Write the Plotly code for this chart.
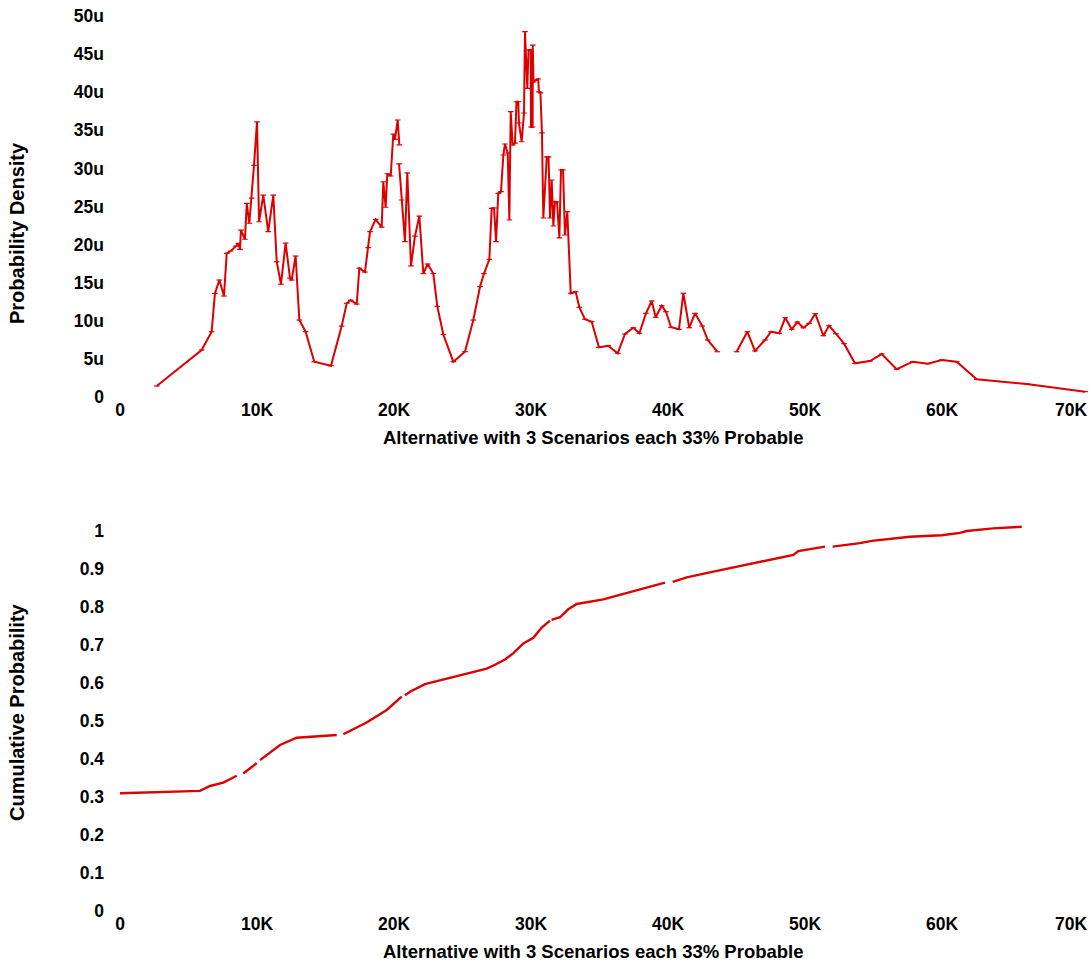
import plotly.graph_objects as go

# ---------------- data ----------------
# Probability density (x in thousands, density in micro-units); None = break in line
density_x_k = [2.68, 5.96, 6.69, 6.93, 7.25, 7.59, 7.79, 8.08, 8.47, 8.64, 8.76, 8.83, 9.12, 9.25, 9.44, 9.61, 9.78, 10.0,
               10.15, 10.46, 10.82, 11.19, 11.44, 11.75, 12.09, 12.41, 12.53, 12.82, 13.09, 13.55, 14.18, 15.4, 16.18,
               16.55, 16.84, 17.28, 17.47, 17.88, 18.12, 18.25, 18.66, 19.1, 19.22, 19.39, 19.51, 19.76, 19.95, 20.07,
               20.27, 20.39, None,
               20.37, 20.56, 20.8, 20.97, 21.24, 21.53, 21.85, 22.14, 22.46, 22.87, 23.16, 23.6, 24.33, 25.18, 25.79,
               26.28, 26.57, 26.96, 27.13, 27.30, 27.45, 27.61, 27.81, 27.98, 28.10, 28.30, 28.42, 28.52, 28.66, 28.83,
               28.94, 29.07, 29.12, 29.32, 29.49, 29.56, 29.73, 29.82, 29.98, 30.0, 30.12, 30.13, 30.18, 30.36, 30.53,
               30.58, 30.69, 30.80, 30.90, 31.15, 31.28, 31.39, 31.51, 31.63, 31.75, 31.90, 32.07, 32.19, 32.34, 32.48,
               32.65, 32.90, 33.26, 33.53, 33.94, 34.43, 34.96, 35.64, 36.33, 36.86, 37.47, 37.91, 38.39, 38.81, 39.10,
               39.54, 39.85, 40.22, 40.80, 41.12, 41.55, 41.97, 42.50, 42.90, 43.60, None,
               45.01, 45.79, 46.35, 47.08, 47.52, 48.12, 48.56, 49.03, 49.44, 49.88, 50.31, 50.75, 51.34, 51.75, 52.26,
               52.85, 53.65, 54.74, 55.6, 56.69, 57.86, 58.96, 59.98, 61.07, 62.53, 66.18, 70.44]
density_u = [1.44, 6.17, 8.57, 13.6, 15.35, 13.25, 18.86, 19.16, 19.8, 20.17, 19.38, 21.9, 20.7, 25.4, 22.8, 26.1, 30.4, 36.1,
             23.0, 26.5, 21.7, 26.5, 17.75, 14.8, 20.2, 15.6, 15.35, 18.5, 10.1, 8.57, 4.63, 4.1, 9.3,
             12.3, 12.7, 12.2, 16.9, 16.4, 19.6, 21.7, 23.3, 22.3, 28.25, 24.9, 29.3, 29.0, 34.5, 33.8,
             36.35, 33.1, None,
             30.6, 25.85, 20.4, 29.4, 17.2, 21.1, 23.75, 16.2, 17.45, 16.2, 11.9, 8.2, 4.63, 5.95, 10.1,
             14.5, 16.2, 18.07, 24.76, 24.8, 20.38, 26.73, 26.94, 31.76, 33.2, 32.02, 23.23, 37.44, 33.07, 33.33,
             38.75, 38.75, 35.96, 33.5, 37.27, 47.94, 40.51, 45.54, 45.54, 35.43, 35.43, 46.19, 41.34, 41.6, 41.73,
             40.03, 39.9, 34.65, 23.49, 31.5, 31.5, 23.49, 28.48, 22.44, 25.63, 25.59, 20.87, 29.79, 29.79, 21.26,
             24.32, 13.61, 13.82, 11.77, 10.2, 9.88, 6.52, 6.73, 5.73, 8.27, 9.09, 8.36, 10.98, 12.6, 10.46,
             11.98, 11.19, 9.15, 8.88, 13.61, 9.09, 10.98, 9.32, 7.48, 5.94, None,
             5.94, 8.57, 6.04, 7.48, 8.57, 8.36, 10.41, 8.88, 9.84, 9.09, 9.67, 10.93, 8.04, 9.36, 8.31,
             7.0, 4.42, 4.72, 5.64, 3.64, 4.63, 4.37, 4.86, 4.63, 2.32, 1.71, 0.7]

# Cumulative probability (x in thousands); None = break in line
cdf_x_k = [0, 5.84, 6.57, 7.54, 8.52, None, 9.0, 9.98, None, 10.22, 11.68, 12.9, 15.82, None, 16.3, 18.0, 19.47, 20.56,
           None, 20.8, 21.17, 22.26, 25.31, 26.77, 27.37, 28.1, 28.7, 29.44, 30.17, 30.78, 31.39, None, 31.5, 32.12,
           32.72, 33.34, 35.28, 36.74, 38.2, 39.78, None, 40.34, 41.37, 43.31, 45.74, 48.18, 49.15, 49.51, 50.36,
           51.46, None, 52.02, 54.01, 54.87, 57.66, 59.98, 61.31, 61.8, 63.74, 65.82]
cdf_p = [0.31, 0.316, 0.329, 0.338, 0.356, None, 0.362, 0.389, None, 0.397, 0.437, 0.456, 0.463, None, 0.465, 0.496,
         0.529, 0.564, None, 0.568, 0.577, 0.597, 0.626, 0.638, 0.648, 0.662, 0.678, 0.704, 0.719, 0.746, 0.764, None,
         0.766, 0.773, 0.794, 0.808, 0.82, 0.834, 0.847, 0.864, None, 0.866, 0.878, 0.893, 0.911, 0.928, 0.937, 0.947,
         0.953, 0.959, None, 0.959, 0.968, 0.974, 0.985, 0.989, 0.995, 1.0, 1.007, 1.011]

# x ticks: the last one ("70K") sits at the right edge and is drawn as a shifted label
x_tick_vals = [0, 10000, 20000, 30000, 40000, 50000, 60000]
x_tick_text = ["0", "10K", "20K", "30K", "40K", "50K", "60K"]
x_last_tick_val = 70000
x_last_tick_text = "70K"
dens_tick_vals = [0, 5e-6, 10e-6, 15e-6, 20e-6, 25e-6, 30e-6, 35e-6, 40e-6, 45e-6, 50e-6]
dens_tick_text = ["0", "5u", "10u", "15u", "20u", "25u", "30u", "35u", "40u", "45u", "50u"]
cdf_tick_vals = [0, 0.1, 0.2, 0.3, 0.4, 0.5, 0.6, 0.7, 0.8, 0.9, 1.0]
cdf_tick_text = ["0", "0.1", "0.2", "0.3", "0.4", "0.5", "0.6", "0.7", "0.8", "0.9", "1"]

x_title = "Alternative with 3 Scenarios each 33% Probable"
y1_title = "Probability Density"
y2_title = "Cumulative Probability"

# ---------------- figure ----------------
W, H = 1091, 961
RED = "#dd0000"
FONT = dict(family="Liberation Sans, Arial, sans-serif", size=17.5, color="black", weight="bold")
TITLE_FONT = dict(FONT, size=18.5)
YTITLE_FONT = dict(FONT, size=20)


def scale(vals, f):
    return [None if v is None else v * f for v in vals]


fig = go.Figure()
fig.add_trace(go.Scatter(
    x=scale(density_x_k, 1000), y=scale(density_u, 1e-6),
    mode="lines+markers", connectgaps=False,
    line=dict(color=RED, width=2),
    marker=dict(symbol="line-ew", size=4, line=dict(color=RED, width=1.2)),
    xaxis="x", yaxis="y", showlegend=False))
fig.add_trace(go.Scatter(
    x=scale(cdf_x_k, 1000), y=cdf_p,
    mode="lines", connectgaps=False,
    line=dict(color=RED, width=2.4),
    xaxis="x2", yaxis="y2", showlegend=False))

x0 = 120 / W
px_per_k = 13.7
xmax_k = 70.7
x1 = (120 + xmax_k * px_per_k) / W

axis_common = dict(showgrid=False, zeroline=False, showline=False, ticks="", automargin=False,
                   tickfont=FONT, fixedrange=True)

fig.update_layout(
    width=W, height=H,
    margin=dict(l=0, r=0, t=0, b=0),
    paper_bgcolor="white", plot_bgcolor="white",
    font=FONT,
    xaxis=dict(domain=[x0, x1], range=[0, xmax_k * 1000], anchor="y",
               tickvals=x_tick_vals, ticktext=x_tick_text, **axis_common),
    yaxis=dict(domain=[1 - 397 / H, 1 - 16 / H], range=[0, 50e-6], anchor="x",
               tickvals=dens_tick_vals, ticktext=dens_tick_text, ticklabelstandoff=15, **axis_common),
    xaxis2=dict(domain=[x0, x1], range=[0, xmax_k * 1000], anchor="y2",
                tickvals=x_tick_vals, ticktext=x_tick_text, **axis_common),
    yaxis2=dict(domain=[1 - 911 / H, 1 - (911 - 1.05 * 380) / H], range=[0, 1.05], anchor="x2",
                tickvals=cdf_tick_vals, ticktext=cdf_tick_text, ticklabelstandoff=15, **axis_common),
    annotations=[
        dict(text=x_title, x=594 / W, y=1 - 437 / H, xref="paper", yref="paper",
             showarrow=False, font=TITLE_FONT, xanchor="center", yanchor="middle"),
        dict(text=x_title, x=594 / W, y=1 - 951 / H, xref="paper", yref="paper",
             showarrow=False, font=TITLE_FONT, xanchor="center", yanchor="middle"),
        dict(text=y1_title, x=17 / W, y=1 - 233 / H, xref="paper", yref="paper", textangle=-90,
             showarrow=False, font=YTITLE_FONT, xanchor="center", yanchor="middle"),
        dict(text=y2_title, x=17 / W, y=1 - 712 / H, xref="paper", yref="paper", textangle=-90,
             showarrow=False, font=YTITLE_FONT, xanchor="center", yanchor="middle"),
        dict(text=x_last_tick_text, x=x_last_tick_val, xref="x", y=1 - 410 / H, yref="paper",
             showarrow=False, font=FONT, xanchor="right", yanchor="middle", xshift=10),
        dict(text=x_last_tick_text, x=x_last_tick_val, xref="x2", y=1 - 924 / H, yref="paper",
             showarrow=False, font=FONT, xanchor="right", yanchor="middle", xshift=10),
    ],
)

fig.write_html("out.html")
